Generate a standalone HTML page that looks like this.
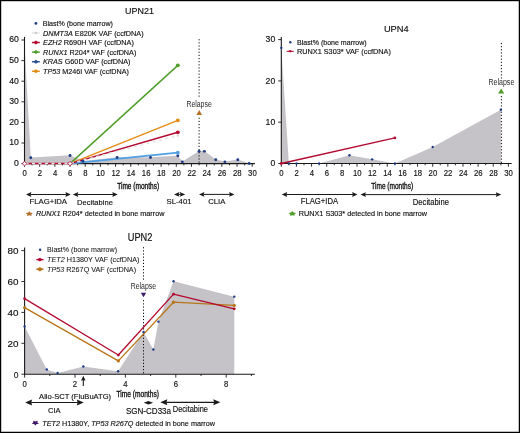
<!DOCTYPE html>
<html><head><meta charset="utf-8"><style>
html,body{margin:0;padding:0;background:#fff;width:520px;height:433px;overflow:hidden;}
svg{display:block;font-family:"Liberation Sans", sans-serif;will-change:transform;}
text{stroke:#111;stroke-width:0.15px;}
</style></head><body>
<svg width="520" height="433" viewBox="0 0 520 433" font-family='"Liberation Sans", sans-serif' fill="#111">
<rect x="0" y="0" width="520" height="433" fill="#fff"/>
<polygon points="24.5,163.6 24.5,44.12 30.8,157.42 70.04,155.15 82.94,160.92 117.1,157.21 150.49,157.21 177.82,155.57 182.37,161.54 199.07,151.03 204.38,151.03 215.77,159.48 224.88,161.54 237.78,159.48 249.16,163.19 249.16,163.6" fill="#c5c3c8"/>
<line x1="199.1" y1="39.2" x2="199.1" y2="97.5" stroke="#000" stroke-width="1" stroke-dasharray="1.15 1.98"/>
<line x1="199.1" y1="117.7" x2="199.1" y2="163.6" stroke="#000" stroke-width="1" stroke-dasharray="1.15 1.98"/>
<line x1="24.5" y1="36.9" x2="24.5" y2="164.1" stroke="#1a1a1a" stroke-width="1.1"/>
<line x1="24" y1="163.6" x2="254.9" y2="163.6" stroke="#1a1a1a" stroke-width="1.1"/>
<line x1="21.4" y1="163.6" x2="24.5" y2="163.6" stroke="#1a1a1a" stroke-width="0.9"/>
<text x="18.8" y="165.9" font-size="8.3" text-anchor="end" textLength="4.8" lengthAdjust="spacingAndGlyphs">0</text>
<line x1="21.4" y1="143" x2="24.5" y2="143" stroke="#1a1a1a" stroke-width="0.9"/>
<text x="18.8" y="145.3" font-size="8.3" text-anchor="end" textLength="9.6" lengthAdjust="spacingAndGlyphs">10</text>
<line x1="21.4" y1="122.4" x2="24.5" y2="122.4" stroke="#1a1a1a" stroke-width="0.9"/>
<text x="18.8" y="124.7" font-size="8.3" text-anchor="end" textLength="9.6" lengthAdjust="spacingAndGlyphs">20</text>
<line x1="21.4" y1="101.8" x2="24.5" y2="101.8" stroke="#1a1a1a" stroke-width="0.9"/>
<text x="18.8" y="104.1" font-size="8.3" text-anchor="end" textLength="9.6" lengthAdjust="spacingAndGlyphs">30</text>
<line x1="21.4" y1="81.2" x2="24.5" y2="81.2" stroke="#1a1a1a" stroke-width="0.9"/>
<text x="18.8" y="83.5" font-size="8.3" text-anchor="end" textLength="9.6" lengthAdjust="spacingAndGlyphs">40</text>
<line x1="21.4" y1="60.6" x2="24.5" y2="60.6" stroke="#1a1a1a" stroke-width="0.9"/>
<text x="18.8" y="62.9" font-size="8.3" text-anchor="end" textLength="9.6" lengthAdjust="spacingAndGlyphs">50</text>
<line x1="21.4" y1="40" x2="24.5" y2="40" stroke="#1a1a1a" stroke-width="0.9"/>
<text x="18.8" y="42.3" font-size="8.3" text-anchor="end" textLength="9.6" lengthAdjust="spacingAndGlyphs">60</text>
<line x1="24.5" y1="163.6" x2="24.5" y2="166.8" stroke="#1a1a1a" stroke-width="0.9"/>
<text x="24.7" y="176.1" font-size="8.3" text-anchor="middle" textLength="4.3" lengthAdjust="spacingAndGlyphs">0</text>
<line x1="32.09" y1="163.6" x2="32.09" y2="165.4" stroke="#1a1a1a" stroke-width="0.9"/>
<line x1="39.68" y1="163.6" x2="39.68" y2="166.8" stroke="#1a1a1a" stroke-width="0.9"/>
<text x="39.88" y="176.1" font-size="8.3" text-anchor="middle" textLength="4.3" lengthAdjust="spacingAndGlyphs">2</text>
<line x1="47.27" y1="163.6" x2="47.27" y2="165.4" stroke="#1a1a1a" stroke-width="0.9"/>
<line x1="54.86" y1="163.6" x2="54.86" y2="166.8" stroke="#1a1a1a" stroke-width="0.9"/>
<text x="55.06" y="176.1" font-size="8.3" text-anchor="middle" textLength="4.3" lengthAdjust="spacingAndGlyphs">4</text>
<line x1="62.45" y1="163.6" x2="62.45" y2="165.4" stroke="#1a1a1a" stroke-width="0.9"/>
<line x1="70.04" y1="163.6" x2="70.04" y2="166.8" stroke="#1a1a1a" stroke-width="0.9"/>
<text x="70.24" y="176.1" font-size="8.3" text-anchor="middle" textLength="4.3" lengthAdjust="spacingAndGlyphs">6</text>
<line x1="77.63" y1="163.6" x2="77.63" y2="165.4" stroke="#1a1a1a" stroke-width="0.9"/>
<line x1="85.22" y1="163.6" x2="85.22" y2="166.8" stroke="#1a1a1a" stroke-width="0.9"/>
<text x="85.42" y="176.1" font-size="8.3" text-anchor="middle" textLength="4.3" lengthAdjust="spacingAndGlyphs">8</text>
<line x1="92.81" y1="163.6" x2="92.81" y2="165.4" stroke="#1a1a1a" stroke-width="0.9"/>
<line x1="100.4" y1="163.6" x2="100.4" y2="166.8" stroke="#1a1a1a" stroke-width="0.9"/>
<text x="100.6" y="176.1" font-size="8.3" text-anchor="middle" textLength="8.6" lengthAdjust="spacingAndGlyphs">10</text>
<line x1="107.99" y1="163.6" x2="107.99" y2="165.4" stroke="#1a1a1a" stroke-width="0.9"/>
<line x1="115.58" y1="163.6" x2="115.58" y2="166.8" stroke="#1a1a1a" stroke-width="0.9"/>
<text x="115.78" y="176.1" font-size="8.3" text-anchor="middle" textLength="8.6" lengthAdjust="spacingAndGlyphs">12</text>
<line x1="123.17" y1="163.6" x2="123.17" y2="165.4" stroke="#1a1a1a" stroke-width="0.9"/>
<line x1="130.76" y1="163.6" x2="130.76" y2="166.8" stroke="#1a1a1a" stroke-width="0.9"/>
<text x="130.96" y="176.1" font-size="8.3" text-anchor="middle" textLength="8.6" lengthAdjust="spacingAndGlyphs">14</text>
<line x1="138.35" y1="163.6" x2="138.35" y2="165.4" stroke="#1a1a1a" stroke-width="0.9"/>
<line x1="145.94" y1="163.6" x2="145.94" y2="166.8" stroke="#1a1a1a" stroke-width="0.9"/>
<text x="146.14" y="176.1" font-size="8.3" text-anchor="middle" textLength="8.6" lengthAdjust="spacingAndGlyphs">16</text>
<line x1="153.53" y1="163.6" x2="153.53" y2="165.4" stroke="#1a1a1a" stroke-width="0.9"/>
<line x1="161.12" y1="163.6" x2="161.12" y2="166.8" stroke="#1a1a1a" stroke-width="0.9"/>
<text x="161.32" y="176.1" font-size="8.3" text-anchor="middle" textLength="8.6" lengthAdjust="spacingAndGlyphs">18</text>
<line x1="168.71" y1="163.6" x2="168.71" y2="165.4" stroke="#1a1a1a" stroke-width="0.9"/>
<line x1="176.3" y1="163.6" x2="176.3" y2="166.8" stroke="#1a1a1a" stroke-width="0.9"/>
<text x="176.5" y="176.1" font-size="8.3" text-anchor="middle" textLength="8.6" lengthAdjust="spacingAndGlyphs">20</text>
<line x1="183.89" y1="163.6" x2="183.89" y2="165.4" stroke="#1a1a1a" stroke-width="0.9"/>
<line x1="191.48" y1="163.6" x2="191.48" y2="166.8" stroke="#1a1a1a" stroke-width="0.9"/>
<text x="191.68" y="176.1" font-size="8.3" text-anchor="middle" textLength="8.6" lengthAdjust="spacingAndGlyphs">22</text>
<line x1="199.07" y1="163.6" x2="199.07" y2="165.4" stroke="#1a1a1a" stroke-width="0.9"/>
<line x1="206.66" y1="163.6" x2="206.66" y2="166.8" stroke="#1a1a1a" stroke-width="0.9"/>
<text x="206.86" y="176.1" font-size="8.3" text-anchor="middle" textLength="8.6" lengthAdjust="spacingAndGlyphs">24</text>
<line x1="214.25" y1="163.6" x2="214.25" y2="165.4" stroke="#1a1a1a" stroke-width="0.9"/>
<line x1="221.84" y1="163.6" x2="221.84" y2="166.8" stroke="#1a1a1a" stroke-width="0.9"/>
<text x="222.04" y="176.1" font-size="8.3" text-anchor="middle" textLength="8.6" lengthAdjust="spacingAndGlyphs">26</text>
<line x1="229.43" y1="163.6" x2="229.43" y2="165.4" stroke="#1a1a1a" stroke-width="0.9"/>
<line x1="237.02" y1="163.6" x2="237.02" y2="166.8" stroke="#1a1a1a" stroke-width="0.9"/>
<text x="237.22" y="176.1" font-size="8.3" text-anchor="middle" textLength="8.6" lengthAdjust="spacingAndGlyphs">28</text>
<line x1="244.61" y1="163.6" x2="244.61" y2="165.4" stroke="#1a1a1a" stroke-width="0.9"/>
<line x1="252.2" y1="163.6" x2="252.2" y2="166.8" stroke="#1a1a1a" stroke-width="0.9"/>
<text x="252.4" y="176.1" font-size="8.3" text-anchor="middle" textLength="8.6" lengthAdjust="spacingAndGlyphs">30</text>
<line x1="70.04" y1="163.6" x2="177.82" y2="152.68" stroke="#4f9fe2" stroke-width="1.8"/>
<circle cx="177.82" cy="152.68" r="1.9" fill="#4f9fe2"/>
<line x1="70.04" y1="163.6" x2="177.82" y2="65.34" stroke="#4f9e2a" stroke-width="1.45"/>
<circle cx="177.82" cy="65.34" r="1.9" fill="#4f9e2a"/>
<line x1="70.04" y1="163.6" x2="177.82" y2="120.34" stroke="#e38c14" stroke-width="1.45"/>
<circle cx="177.82" cy="120.34" r="1.9" fill="#e38c14"/>
<polyline points="24.5,163.6 70.04,163.6 177.82,132.29" fill="none" stroke="#b3082f" stroke-width="1.5" stroke-linejoin="round"/>
<circle cx="177.82" cy="132.29" r="1.9" fill="#b3082f"/>
<polyline points="24.5,163.6 70.04,163.6 177.82,135.58" fill="none" stroke="#e4e4e4" stroke-width="1.5" stroke-linejoin="round" stroke-dasharray="3 3.5" stroke-dashoffset="-1"/>
<circle cx="177.82" cy="135.58" r="1.2" fill="#d8d8d8"/>
<circle cx="30.8" cy="157.72" r="1.45" fill="#1d3c85"/>
<circle cx="70.04" cy="155.45" r="1.45" fill="#1d3c85"/>
<circle cx="82.94" cy="161.22" r="1.45" fill="#1d3c85"/>
<circle cx="117.1" cy="157.51" r="1.45" fill="#1d3c85"/>
<circle cx="150.49" cy="157.51" r="1.45" fill="#1d3c85"/>
<circle cx="177.82" cy="155.87" r="1.45" fill="#1d3c85"/>
<circle cx="182.37" cy="161.84" r="1.45" fill="#1d3c85"/>
<circle cx="199.07" cy="151.33" r="1.45" fill="#1d3c85"/>
<circle cx="204.38" cy="151.33" r="1.45" fill="#1d3c85"/>
<circle cx="215.77" cy="159.78" r="1.45" fill="#1d3c85"/>
<circle cx="224.88" cy="161.84" r="1.45" fill="#1d3c85"/>
<circle cx="237.78" cy="159.78" r="1.45" fill="#1d3c85"/>
<circle cx="249.16" cy="163.49" r="1.45" fill="#1d3c85"/>
<polygon points="24.5,161.3 26.8,163.6 24.5,165.9 22.2,163.6" fill="#eef8f8" stroke="#b3082f" stroke-width="0.85"/>
<polygon points="70.04,161.3 72.34,163.6 70.04,165.9 67.74,163.6" fill="#eef8f8" stroke="#b3082f" stroke-width="0.85"/>
<text x="199.1" y="106.5" font-size="8.3" text-anchor="middle" textLength="25.4" lengthAdjust="spacingAndGlyphs" fill="#2a2a2a" style="stroke-width:0">Relapse</text>
<polygon points="199.2,110.1 202.1,114.9 196.3,114.9" fill="#b5702a"/>
<text x="125.1" y="14.1" font-size="9.5" textLength="28.8" lengthAdjust="spacingAndGlyphs">UPN21</text>
<circle cx="35.9" cy="23.4" r="1.4" fill="#1d3c85"/>
<text x="42.7" y="26.2" font-size="8.0" textLength="70.2" lengthAdjust="spacingAndGlyphs">Blast% (bone marrow)</text>
<line x1="31.9" y1="32.9" x2="39.8" y2="32.9" stroke="#d6d6d6" stroke-width="1.3" stroke-dasharray="1.6 0.8"/>
<polygon points="35.9,31.4 37.9,32.9 35.9,34.4 33.9,32.9" fill="#cfcfcf"/>
<text x="43" y="35.6" font-size="7.9" textLength="100.6" lengthAdjust="spacingAndGlyphs"><tspan font-style="italic">DNMT3A</tspan> E820K VAF (ccfDNA)</text>
<line x1="31.9" y1="42.5" x2="39.8" y2="42.5" stroke="#b3082f" stroke-width="1.4"/>
<polygon points="35.9,40.5 38.6,42.5 35.9,44.5 33.2,42.5" fill="#b3082f"/>
<text x="43" y="45.2" font-size="7.9" textLength="90.9" lengthAdjust="spacingAndGlyphs"><tspan font-style="italic">EZH2</tspan> R690H VAF (ccfDNA)</text>
<line x1="31.9" y1="52.1" x2="39.8" y2="52.1" stroke="#4f9e2a" stroke-width="1.4"/>
<polygon points="35.9,50.1 38.6,52.1 35.9,54.1 33.2,52.1" fill="#4f9e2a"/>
<text x="43" y="54.8" font-size="7.9" textLength="93.3" lengthAdjust="spacingAndGlyphs"><tspan font-style="italic">RUNX1</tspan> R204* VAF (ccfDNA)</text>
<line x1="31.9" y1="61.7" x2="39.8" y2="61.7" stroke="#2b4f99" stroke-width="1.4"/>
<polygon points="35.9,59.7 38.6,61.7 35.9,63.7 33.2,61.7" fill="#2b4f99"/>
<text x="43" y="64.4" font-size="7.9" textLength="87.5" lengthAdjust="spacingAndGlyphs"><tspan font-style="italic">KRAS</tspan> G60D VAF (ccfDNA)</text>
<line x1="31.9" y1="71.3" x2="39.8" y2="71.3" stroke="#e38c14" stroke-width="1.4"/>
<polygon points="35.9,69.3 38.6,71.3 35.9,73.3 33.2,71.3" fill="#e38c14"/>
<text x="43" y="74" font-size="7.9" textLength="85.9" lengthAdjust="spacingAndGlyphs"><tspan font-style="italic">TP53</tspan> M246I VAF (ccfDNA)</text>
<text x="117.2" y="189.1" font-size="9.0" textLength="42" lengthAdjust="spacingAndGlyphs" style="stroke-width:0.35px">Time (months)</text>
<line x1="30.4" y1="194.5" x2="66.4" y2="194.5" stroke="#1a1a1a" stroke-width="1"/>
<polygon points="26,194.5 31.4,192.05 30.6,194.5 31.4,196.95" fill="#1a1a1a"/>
<polygon points="70.8,194.5 65.4,192.05 66.2,194.5 65.4,196.95" fill="#1a1a1a"/>
<line x1="77.3" y1="194.5" x2="113.3" y2="194.5" stroke="#1a1a1a" stroke-width="1"/>
<polygon points="72.9,194.5 78.3,192.05 77.5,194.5 78.3,196.95" fill="#1a1a1a"/>
<polygon points="117.7,194.5 112.3,192.05 113.1,194.5 112.3,196.95" fill="#1a1a1a"/>
<line x1="178.4" y1="194.4" x2="180.8" y2="194.4" stroke="#1a1a1a" stroke-width="1"/>
<polygon points="174,194.4 179.4,191.95 178.6,194.4 179.4,196.85" fill="#1a1a1a"/>
<polygon points="185.2,194.4 179.8,191.95 180.6,194.4 179.8,196.85" fill="#1a1a1a"/>
<line x1="203.4" y1="194.4" x2="230.1" y2="194.4" stroke="#1a1a1a" stroke-width="1"/>
<polygon points="199,194.4 204.4,191.95 203.6,194.4 204.4,196.85" fill="#1a1a1a"/>
<polygon points="234.5,194.4 229.1,191.95 229.9,194.4 229.1,196.85" fill="#1a1a1a"/>
<text x="29.5" y="204.4" font-size="8.0" textLength="37.5" lengthAdjust="spacingAndGlyphs">FLAG+IDA</text>
<text x="77.1" y="204.5" font-size="8.1" textLength="35.8" lengthAdjust="spacingAndGlyphs">Decitabine</text>
<text x="166.6" y="204.4" font-size="8.0" textLength="24.9" lengthAdjust="spacingAndGlyphs">SL-401</text>
<text x="208.2" y="204.4" font-size="8.0" textLength="17.1" lengthAdjust="spacingAndGlyphs">CLIA</text>
<polygon points="29.3,211.23 30.56,212.65 33.01,213 31.34,214.24 31.59,215.88 29.3,215.22 27.01,215.88 27.26,214.24 25.59,213 28.04,212.65" fill="#b5702a"/>
<text x="35.9" y="216" font-size="7.4" textLength="128.5" lengthAdjust="spacingAndGlyphs"><tspan font-style="italic">RUNX1</tspan> R204* detected in bone marrow</text>
<polygon points="281.3,163.5 281.3,47.86 288.87,163.5 296.44,163.5 319.15,163.5 349.43,155.24 372.14,159.37 394.85,163.5 432.7,146.98 500.83,109.81 500.83,163.5" fill="#c5c3c8"/>
<line x1="501.4" y1="43" x2="501.4" y2="78.5" stroke="#000" stroke-width="1" stroke-dasharray="1.15 1.98"/>
<line x1="501.4" y1="96" x2="501.4" y2="163.5" stroke="#000" stroke-width="1" stroke-dasharray="1.15 1.98"/>
<line x1="281.3" y1="37.1" x2="281.3" y2="164" stroke="#1a1a1a" stroke-width="1.1"/>
<line x1="280.8" y1="163.5" x2="511.7" y2="163.5" stroke="#1a1a1a" stroke-width="1.1"/>
<line x1="278.2" y1="163.5" x2="281.3" y2="163.5" stroke="#1a1a1a" stroke-width="0.9"/>
<text x="275.2" y="166.3" font-size="8.3" text-anchor="end" textLength="4.8" lengthAdjust="spacingAndGlyphs">0</text>
<line x1="278.2" y1="122.2" x2="281.3" y2="122.2" stroke="#1a1a1a" stroke-width="0.9"/>
<text x="275.2" y="125" font-size="8.3" text-anchor="end" textLength="9.6" lengthAdjust="spacingAndGlyphs">10</text>
<line x1="278.2" y1="80.9" x2="281.3" y2="80.9" stroke="#1a1a1a" stroke-width="0.9"/>
<text x="275.2" y="83.7" font-size="8.3" text-anchor="end" textLength="9.6" lengthAdjust="spacingAndGlyphs">20</text>
<line x1="278.2" y1="39.6" x2="281.3" y2="39.6" stroke="#1a1a1a" stroke-width="0.9"/>
<text x="275.2" y="42.4" font-size="8.3" text-anchor="end" textLength="9.6" lengthAdjust="spacingAndGlyphs">30</text>
<line x1="281.3" y1="163.5" x2="281.3" y2="166.7" stroke="#1a1a1a" stroke-width="0.9"/>
<text x="281.5" y="176.1" font-size="8.3" text-anchor="middle" textLength="4.3" lengthAdjust="spacingAndGlyphs">0</text>
<line x1="288.87" y1="163.5" x2="288.87" y2="165.3" stroke="#1a1a1a" stroke-width="0.9"/>
<line x1="296.44" y1="163.5" x2="296.44" y2="166.7" stroke="#1a1a1a" stroke-width="0.9"/>
<text x="296.64" y="176.1" font-size="8.3" text-anchor="middle" textLength="4.3" lengthAdjust="spacingAndGlyphs">2</text>
<line x1="304.01" y1="163.5" x2="304.01" y2="165.3" stroke="#1a1a1a" stroke-width="0.9"/>
<line x1="311.58" y1="163.5" x2="311.58" y2="166.7" stroke="#1a1a1a" stroke-width="0.9"/>
<text x="311.78" y="176.1" font-size="8.3" text-anchor="middle" textLength="4.3" lengthAdjust="spacingAndGlyphs">4</text>
<line x1="319.15" y1="163.5" x2="319.15" y2="165.3" stroke="#1a1a1a" stroke-width="0.9"/>
<line x1="326.72" y1="163.5" x2="326.72" y2="166.7" stroke="#1a1a1a" stroke-width="0.9"/>
<text x="326.92" y="176.1" font-size="8.3" text-anchor="middle" textLength="4.3" lengthAdjust="spacingAndGlyphs">6</text>
<line x1="334.29" y1="163.5" x2="334.29" y2="165.3" stroke="#1a1a1a" stroke-width="0.9"/>
<line x1="341.86" y1="163.5" x2="341.86" y2="166.7" stroke="#1a1a1a" stroke-width="0.9"/>
<text x="342.06" y="176.1" font-size="8.3" text-anchor="middle" textLength="4.3" lengthAdjust="spacingAndGlyphs">8</text>
<line x1="349.43" y1="163.5" x2="349.43" y2="165.3" stroke="#1a1a1a" stroke-width="0.9"/>
<line x1="357" y1="163.5" x2="357" y2="166.7" stroke="#1a1a1a" stroke-width="0.9"/>
<text x="357.2" y="176.1" font-size="8.3" text-anchor="middle" textLength="8.6" lengthAdjust="spacingAndGlyphs">10</text>
<line x1="364.57" y1="163.5" x2="364.57" y2="165.3" stroke="#1a1a1a" stroke-width="0.9"/>
<line x1="372.14" y1="163.5" x2="372.14" y2="166.7" stroke="#1a1a1a" stroke-width="0.9"/>
<text x="372.34" y="176.1" font-size="8.3" text-anchor="middle" textLength="8.6" lengthAdjust="spacingAndGlyphs">12</text>
<line x1="379.71" y1="163.5" x2="379.71" y2="165.3" stroke="#1a1a1a" stroke-width="0.9"/>
<line x1="387.28" y1="163.5" x2="387.28" y2="166.7" stroke="#1a1a1a" stroke-width="0.9"/>
<text x="387.48" y="176.1" font-size="8.3" text-anchor="middle" textLength="8.6" lengthAdjust="spacingAndGlyphs">14</text>
<line x1="394.85" y1="163.5" x2="394.85" y2="165.3" stroke="#1a1a1a" stroke-width="0.9"/>
<line x1="402.42" y1="163.5" x2="402.42" y2="166.7" stroke="#1a1a1a" stroke-width="0.9"/>
<text x="402.62" y="176.1" font-size="8.3" text-anchor="middle" textLength="8.6" lengthAdjust="spacingAndGlyphs">16</text>
<line x1="409.99" y1="163.5" x2="409.99" y2="165.3" stroke="#1a1a1a" stroke-width="0.9"/>
<line x1="417.56" y1="163.5" x2="417.56" y2="166.7" stroke="#1a1a1a" stroke-width="0.9"/>
<text x="417.76" y="176.1" font-size="8.3" text-anchor="middle" textLength="8.6" lengthAdjust="spacingAndGlyphs">18</text>
<line x1="425.13" y1="163.5" x2="425.13" y2="165.3" stroke="#1a1a1a" stroke-width="0.9"/>
<line x1="432.7" y1="163.5" x2="432.7" y2="166.7" stroke="#1a1a1a" stroke-width="0.9"/>
<text x="432.9" y="176.1" font-size="8.3" text-anchor="middle" textLength="8.6" lengthAdjust="spacingAndGlyphs">20</text>
<line x1="440.27" y1="163.5" x2="440.27" y2="165.3" stroke="#1a1a1a" stroke-width="0.9"/>
<line x1="447.84" y1="163.5" x2="447.84" y2="166.7" stroke="#1a1a1a" stroke-width="0.9"/>
<text x="448.04" y="176.1" font-size="8.3" text-anchor="middle" textLength="8.6" lengthAdjust="spacingAndGlyphs">22</text>
<line x1="455.41" y1="163.5" x2="455.41" y2="165.3" stroke="#1a1a1a" stroke-width="0.9"/>
<line x1="462.98" y1="163.5" x2="462.98" y2="166.7" stroke="#1a1a1a" stroke-width="0.9"/>
<text x="463.18" y="176.1" font-size="8.3" text-anchor="middle" textLength="8.6" lengthAdjust="spacingAndGlyphs">24</text>
<line x1="470.55" y1="163.5" x2="470.55" y2="165.3" stroke="#1a1a1a" stroke-width="0.9"/>
<line x1="478.12" y1="163.5" x2="478.12" y2="166.7" stroke="#1a1a1a" stroke-width="0.9"/>
<text x="478.32" y="176.1" font-size="8.3" text-anchor="middle" textLength="8.6" lengthAdjust="spacingAndGlyphs">26</text>
<line x1="485.69" y1="163.5" x2="485.69" y2="165.3" stroke="#1a1a1a" stroke-width="0.9"/>
<line x1="493.26" y1="163.5" x2="493.26" y2="166.7" stroke="#1a1a1a" stroke-width="0.9"/>
<text x="493.46" y="176.1" font-size="8.3" text-anchor="middle" textLength="8.6" lengthAdjust="spacingAndGlyphs">28</text>
<line x1="500.83" y1="163.5" x2="500.83" y2="165.3" stroke="#1a1a1a" stroke-width="0.9"/>
<line x1="508.4" y1="163.5" x2="508.4" y2="166.7" stroke="#1a1a1a" stroke-width="0.9"/>
<text x="508.6" y="176.1" font-size="8.3" text-anchor="middle" textLength="8.6" lengthAdjust="spacingAndGlyphs">30</text>
<line x1="281.3" y1="163.5" x2="394.85" y2="137.89" stroke="#b3082f" stroke-width="1.3"/>
<circle cx="281.3" cy="163.5" r="1.4" fill="#b3082f"/>
<circle cx="394.85" cy="137.89" r="1.4" fill="#b3082f"/>
<circle cx="281.3" cy="47.86" r="1.2" fill="#1d3c85"/>
<circle cx="288.87" cy="163.5" r="1.2" fill="#1d3c85"/>
<circle cx="296.44" cy="163.5" r="1.2" fill="#1d3c85"/>
<circle cx="319.15" cy="163.5" r="1.2" fill="#1d3c85"/>
<circle cx="349.43" cy="155.24" r="1.2" fill="#1d3c85"/>
<circle cx="372.14" cy="159.37" r="1.2" fill="#1d3c85"/>
<circle cx="394.85" cy="163.5" r="1.2" fill="#1d3c85"/>
<circle cx="432.7" cy="146.98" r="1.2" fill="#1d3c85"/>
<circle cx="500.83" cy="109.81" r="1.2" fill="#1d3c85"/>
<text x="501.4" y="85.1" font-size="8.3" text-anchor="middle" textLength="25.8" lengthAdjust="spacingAndGlyphs" fill="#2a2a2a" style="stroke-width:0">Relapse</text>
<polygon points="501.2,88.5 504.3,93.5 498.1,93.5" fill="#4f9e2a"/>
<text x="383.9" y="31.5" font-size="9.9" textLength="24.8" lengthAdjust="spacingAndGlyphs">UPN4</text>
<circle cx="290.3" cy="42.3" r="1.2" fill="#1d3c85"/>
<text x="297" y="44.8" font-size="7.5" textLength="69.7" lengthAdjust="spacingAndGlyphs">Blast% (bone marrow)</text>
<line x1="286.6" y1="51.3" x2="293.8" y2="51.3" stroke="#b3082f" stroke-width="1"/>
<polygon points="290.1,50 292.2,51.3 290.1,52.6 288,51.3" fill="#b3082f"/>
<text x="297" y="53.7" font-size="7.5" textLength="93.9" lengthAdjust="spacingAndGlyphs">RUNX1 S303* VAF (ccfDNA)</text>
<text x="371.3" y="188.6" font-size="9.0" textLength="41.8" lengthAdjust="spacingAndGlyphs" style="stroke-width:0.35px">Time (months)</text>
<line x1="286.2" y1="194.5" x2="353.1" y2="194.5" stroke="#1a1a1a" stroke-width="1"/>
<polygon points="281.8,194.5 287.2,192.05 286.4,194.5 287.2,196.95" fill="#1a1a1a"/>
<polygon points="357.5,194.5 352.1,192.05 352.9,194.5 352.1,196.95" fill="#1a1a1a"/>
<line x1="364.9" y1="194.6" x2="496.8" y2="194.6" stroke="#1a1a1a" stroke-width="1"/>
<polygon points="360.5,194.6 365.9,192.15 365.1,194.6 365.9,197.05" fill="#1a1a1a"/>
<polygon points="501.2,194.6 495.8,192.15 496.6,194.6 495.8,197.05" fill="#1a1a1a"/>
<text x="300.7" y="203.9" font-size="8.6" textLength="37.4" lengthAdjust="spacingAndGlyphs">FLAG+IDA</text>
<text x="412.8" y="204.8" font-size="8.3" textLength="36.1" lengthAdjust="spacingAndGlyphs">Decitabine</text>
<polygon points="292.3,211.06 293.59,212.53 296.1,212.88 294.39,214.15 294.65,215.84 292.3,215.15 289.95,215.84 290.21,214.15 288.5,212.88 291.01,212.53" fill="#4f9e2a"/>
<text x="298.8" y="215.8" font-size="7.6" textLength="128.3" lengthAdjust="spacingAndGlyphs">RUNX1 S303* detected in bone marrow</text>
<polygon points="24.6,374.2 24.6,326.46 46.78,369.56 57.61,372.96 83.32,366.47 118.09,371.26 143.54,332.02 153.37,349.48 158.41,321.67 173.53,281.19 234.26,296.64 234.26,374.2" fill="#c5c3c8"/>
<line x1="143.5" y1="247.2" x2="143.5" y2="280" stroke="#000" stroke-width="1" stroke-dasharray="1.15 1.98"/>
<line x1="143.5" y1="300.2" x2="143.5" y2="374.2" stroke="#000" stroke-width="1" stroke-dasharray="1.15 1.98"/>
<line x1="24.6" y1="247.4" x2="24.6" y2="374.7" stroke="#1a1a1a" stroke-width="1.1"/>
<line x1="24.1" y1="374.2" x2="254.8" y2="374.2" stroke="#1a1a1a" stroke-width="1.1"/>
<line x1="21.4" y1="374.2" x2="24.6" y2="374.2" stroke="#1a1a1a" stroke-width="0.9"/>
<text x="18.4" y="377.5" font-size="9.4" text-anchor="end" textLength="4.7" lengthAdjust="spacingAndGlyphs">0</text>
<line x1="21.4" y1="343.3" x2="24.6" y2="343.3" stroke="#1a1a1a" stroke-width="0.9"/>
<text x="18.4" y="346.6" font-size="9.4" text-anchor="end" textLength="11" lengthAdjust="spacingAndGlyphs">20</text>
<line x1="21.4" y1="312.4" x2="24.6" y2="312.4" stroke="#1a1a1a" stroke-width="0.9"/>
<text x="18.4" y="315.7" font-size="9.4" text-anchor="end" textLength="11" lengthAdjust="spacingAndGlyphs">40</text>
<line x1="21.4" y1="281.5" x2="24.6" y2="281.5" stroke="#1a1a1a" stroke-width="0.9"/>
<text x="18.4" y="284.8" font-size="9.4" text-anchor="end" textLength="11" lengthAdjust="spacingAndGlyphs">60</text>
<line x1="21.4" y1="250.6" x2="24.6" y2="250.6" stroke="#1a1a1a" stroke-width="0.9"/>
<text x="18.4" y="253.9" font-size="9.4" text-anchor="end" textLength="11" lengthAdjust="spacingAndGlyphs">80</text>
<line x1="24.6" y1="374.2" x2="24.6" y2="377.6" stroke="#1a1a1a" stroke-width="0.9"/>
<text x="24.6" y="387.2" font-size="8.3" text-anchor="middle" textLength="4.3" lengthAdjust="spacingAndGlyphs">0</text>
<line x1="49.8" y1="374.2" x2="49.8" y2="376" stroke="#1a1a1a" stroke-width="0.9"/>
<line x1="75" y1="374.2" x2="75" y2="377.6" stroke="#1a1a1a" stroke-width="0.9"/>
<text x="75" y="387.2" font-size="8.3" text-anchor="middle" textLength="4.3" lengthAdjust="spacingAndGlyphs">2</text>
<line x1="100.2" y1="374.2" x2="100.2" y2="376" stroke="#1a1a1a" stroke-width="0.9"/>
<line x1="125.4" y1="374.2" x2="125.4" y2="377.6" stroke="#1a1a1a" stroke-width="0.9"/>
<text x="125.4" y="387.2" font-size="8.3" text-anchor="middle" textLength="4.3" lengthAdjust="spacingAndGlyphs">4</text>
<line x1="150.6" y1="374.2" x2="150.6" y2="376" stroke="#1a1a1a" stroke-width="0.9"/>
<line x1="175.8" y1="374.2" x2="175.8" y2="377.6" stroke="#1a1a1a" stroke-width="0.9"/>
<text x="175.8" y="387.2" font-size="8.3" text-anchor="middle" textLength="4.3" lengthAdjust="spacingAndGlyphs">6</text>
<line x1="201" y1="374.2" x2="201" y2="376" stroke="#1a1a1a" stroke-width="0.9"/>
<line x1="226.2" y1="374.2" x2="226.2" y2="377.6" stroke="#1a1a1a" stroke-width="0.9"/>
<text x="226.2" y="387.2" font-size="8.3" text-anchor="middle" textLength="4.3" lengthAdjust="spacingAndGlyphs">8</text>
<line x1="251.4" y1="374.2" x2="251.4" y2="376" stroke="#1a1a1a" stroke-width="0.9"/>
<polyline points="24.6,307.61 118.34,360.91 173.53,302.2 234.26,305.45" fill="none" stroke="#b87518" stroke-width="1.3" stroke-linejoin="round"/>
<polyline points="24.6,298.65 118.34,355.04 173.53,294.17 234.26,308.85" fill="none" stroke="#b3082f" stroke-width="1.3" stroke-linejoin="round"/>
<circle cx="24.6" cy="307.61" r="1.6" fill="#b87518"/>
<circle cx="118.34" cy="360.91" r="1.6" fill="#b87518"/>
<circle cx="173.53" cy="302.2" r="1.6" fill="#b87518"/>
<circle cx="234.26" cy="305.45" r="1.6" fill="#b87518"/>
<circle cx="24.6" cy="298.65" r="1.4" fill="#b3082f"/>
<circle cx="118.34" cy="355.04" r="1.4" fill="#b3082f"/>
<circle cx="173.53" cy="294.17" r="1.4" fill="#b3082f"/>
<circle cx="234.26" cy="308.85" r="1.4" fill="#b3082f"/>
<circle cx="24.6" cy="326.46" r="1.2" fill="#1d3c85"/>
<circle cx="46.78" cy="369.56" r="1.2" fill="#1d3c85"/>
<circle cx="57.61" cy="372.96" r="1.2" fill="#1d3c85"/>
<circle cx="83.32" cy="366.47" r="1.2" fill="#1d3c85"/>
<circle cx="118.09" cy="371.26" r="1.2" fill="#1d3c85"/>
<circle cx="143.54" cy="332.02" r="1.2" fill="#1d3c85"/>
<circle cx="153.37" cy="349.48" r="1.2" fill="#1d3c85"/>
<circle cx="158.41" cy="321.67" r="1.2" fill="#1d3c85"/>
<circle cx="173.53" cy="281.19" r="1.2" fill="#1d3c85"/>
<circle cx="234.26" cy="296.64" r="1.2" fill="#1d3c85"/>
<text x="130.7" y="288.5" font-size="8.2" textLength="25.4" lengthAdjust="spacingAndGlyphs" fill="#2a2a2a" style="stroke-width:0">Relapse</text>
<polygon points="140.8,292.7 146.2,292.7 143.5,297.3" fill="#3e1c6c"/>
<text x="127.8" y="240.8" font-size="10.0" textLength="24.6" lengthAdjust="spacingAndGlyphs">UPN2</text>
<circle cx="40.1" cy="249.7" r="1.2" fill="#1d3c85"/>
<text x="47.1" y="252.1" font-size="7.8" style="stroke-width:0.05px" textLength="69.9" lengthAdjust="spacingAndGlyphs">Blast% (bone marrow)</text>
<line x1="36.3" y1="259.6" x2="43.6" y2="259.6" stroke="#b3082f" stroke-width="1.3"/>
<polygon points="39.9,257.8 43.1,259.6 39.9,261.4 36.7,259.6" fill="#b3082f"/>
<text x="47.1" y="262" font-size="7.8" style="stroke-width:0.05px" textLength="92.3" lengthAdjust="spacingAndGlyphs"><tspan font-style="italic">TET2</tspan> H1380Y VAF (ccfDNA)</text>
<line x1="36.3" y1="269.2" x2="43.6" y2="269.2" stroke="#b87518" stroke-width="1.3"/>
<polygon points="39.9,266.9 43.2,269.2 39.9,271.5 36.6,269.2" fill="#b87518"/>
<text x="47.1" y="271.8" font-size="7.8" style="stroke-width:0.05px" textLength="89" lengthAdjust="spacingAndGlyphs"><tspan font-style="italic">TP53</tspan> R267Q VAF (ccfDNA)</text>
<line x1="83.3" y1="379.5" x2="83.3" y2="386.1" stroke="#1a1a1a" stroke-width="1.1"/>
<polygon points="83.3,375.8 85.6,380.8 83.3,380 81,380.8" fill="#1a1a1a"/>
<text x="39.1" y="399.1" font-size="7.8" textLength="72" lengthAdjust="spacingAndGlyphs">Allo-SCT (FluBuATG)</text>
<text x="116.5" y="397" font-size="9.0" textLength="42.4" lengthAdjust="spacingAndGlyphs" style="stroke-width:0.35px">Time (months)</text>
<line x1="31.1" y1="402.5" x2="77.8" y2="402.5" stroke="#1a1a1a" stroke-width="1.2"/>
<polygon points="25.1,402.5 32.1,399.5 31.3,402.5 32.1,405.5" fill="#1a1a1a"/>
<polygon points="83.8,402.5 76.8,399.5 77.6,402.5 76.8,405.5" fill="#1a1a1a"/>
<text x="48" y="412.6" font-size="7.9" textLength="12.6" lengthAdjust="spacingAndGlyphs">CIA</text>
<polygon points="143.7,402.7 148.4,400.9 153.1,402.7 148.4,404.5" fill="#1a1a1a"/>
<line x1="166.3" y1="402.3" x2="214.3" y2="402.3" stroke="#1a1a1a" stroke-width="1.2"/>
<polygon points="160.3,402.3 167.3,399.3 166.5,402.3 167.3,405.3" fill="#1a1a1a"/>
<polygon points="220.3,402.3 213.3,399.3 214.1,402.3 213.3,405.3" fill="#1a1a1a"/>
<text x="125.9" y="414.3" font-size="8.2" textLength="45.2" lengthAdjust="spacingAndGlyphs">SGN-CD33a</text>
<text x="172.8" y="412.3" font-size="8.2" textLength="35.1" lengthAdjust="spacingAndGlyphs">Decitabine</text>
<polygon points="35.35,425.47 34.09,424.05 31.64,423.7 33.31,422.46 33.06,420.82 35.35,421.48 37.64,420.82 37.39,422.46 39.06,423.7 36.61,424.05" fill="#3e1466"/>
<text x="42.3" y="425.7" font-size="7.6" textLength="172.7" lengthAdjust="spacingAndGlyphs"><tspan font-style="italic">TET2</tspan> H1380Y, <tspan font-style="italic">TP53 R267Q</tspan> detected in bone marrow</text>
<rect x="0" y="0" width="520" height="1.2" fill="#000"/><rect x="0" y="0" width="1.2" height="433" fill="#000"/><rect x="518.75" y="0" width="1.25" height="433" fill="#000"/><rect x="0" y="431.75" width="520" height="1.25" fill="#000"/>
</svg>
</body></html>
